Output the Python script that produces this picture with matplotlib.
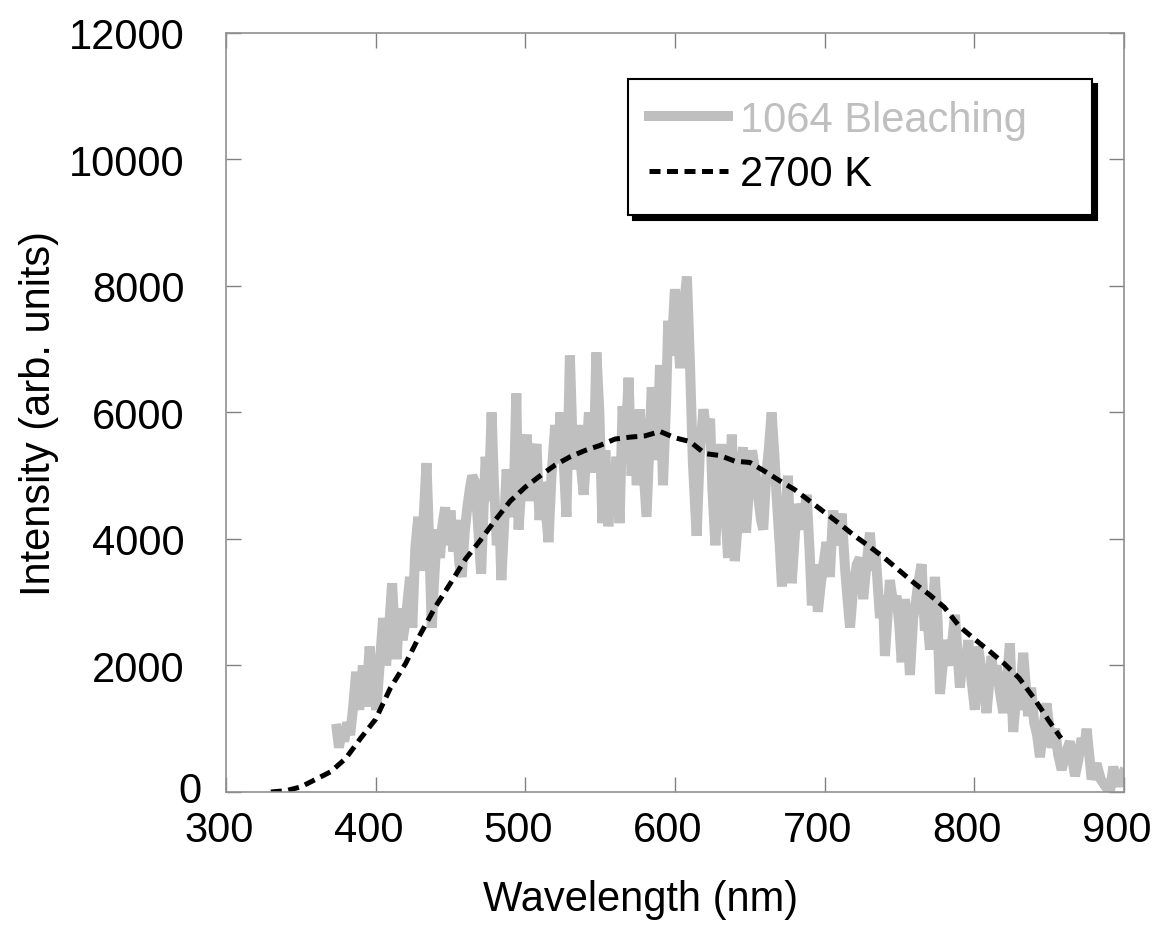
import numpy as np
import matplotlib
matplotlib.use('Agg')
import matplotlib.pyplot as plt
import matplotlib.transforms as mtransforms

wl_meas = [374, 375.5, 377, 379, 381, 383, 385, 387, 389, 391.5, 393.5, 396, 398, 400.5, 403, 405, 407, 409,
           411, 413, 414, 416, 418, 420, 423, 424.5, 426.5, 428.5, 430, 432, 434, 436, 437.5, 439, 441, 443,
           444.5, 446.5, 448, 450, 452, 454, 456, 457.5, 459.5, 461,
           463, 464.5, 466.5, 468.5, 470.5, 472, 473.5, 475.5, 477.5, 479, 481, 482.5, 484, 486, 487.5, 489.5,
           492, 494, 495.5, 497, 499, 501, 503, 505, 507.5, 509.5, 511.5, 513.5, 515.5, 517.5, 520, 522,
           523.5, 525.5, 527.5, 529.8, 531.5, 533, 535, 537, 539, 541, 542.5, 544, 545.5, 547.5, 549.5, 551.5,
           553.5, 555.5, 557.5, 559, 561, 563, 565, 567, 569, 571, 573, 574.5, 576.5, 578.5, 581, 583, 584.5,
           586.5, 588, 590, 592, 594, 595.5, 597.5, 600, 602, 603.5, 606, 608, 610, 612, 614.5, 616.5, 619,
           621, 623.5, 625, 627, 629, 631, 633, 635.5, 638,
           640, 641.5, 643, 645.5, 647.5, 649.5, 651.5, 653.5, 655.5, 657.5, 659, 661, 663, 664.6, 666.5, 668,
           670, 671.5, 673.5, 675.5, 678, 680, 681.5, 683.5, 685.5, 688, 690, 691.5, 693.5, 695.5, 698, 701.3,
           703.5, 705.7, 708, 711.4, 713.6, 715.5, 717, 719, 721.5, 723.6, 725.8,
           728, 730.3, 732, 734, 737, 739, 740.3, 743.6, 745.9, 748.1, 750, 751.5, 753.7, 755.5, 757, 759.2,
           761, 762.5, 764.8, 767, 768.5, 770.4, 773.7, 775.5, 777.1, 780.4, 783.7, 787.1, 790.4, 792.5, 794,
           796, 798, 800.4, 802.6, 805, 808.2, 811.6,
           813, 814.9, 817, 819.4, 821.5, 823.8, 826, 828, 830, 832.7, 836, 838, 840, 842, 843.9, 846, 848.3,
           851.7, 854, 856, 858.4, 861, 863.9, 867.3, 869.5, 871.7, 873.5, 875.1, 878.4, 881.7, 884.5, 887.3,
           890.6, 892.9, 894.5, 896.2, 899.5]
int_meas = [1000, 700, 950, 800, 1100, 900, 1350, 1900, 1300, 2000, 1350, 2300, 1700, 1300, 2100, 2750, 2000, 2600,
            3300, 2400, 2100, 2900, 2400, 2700, 3400, 2600, 3850, 4350, 3500, 4300, 5200, 3800, 2600, 3300, 4150, 3700,
            4200, 4500, 3900, 4450, 3800, 4300, 3600, 3400, 4100, 4450,
            4800, 5000, 4900, 4200, 3450, 4400, 5300, 4600, 6000, 4900, 3900, 4500, 3350, 4300, 5100, 4700,
            4350, 6300, 4150, 4700, 5300, 5650, 4600, 5200, 5500, 4300, 4900, 4500, 3950, 5000, 5800, 5200,
            6000, 5300, 4350, 6900, 5600, 5100, 5800, 5200, 4700, 5400, 6000, 5500, 5050, 6950, 6000, 4250,
            5400, 4200, 5000, 4600, 5300, 4250, 6100, 5500, 6550, 5000, 5600, 4850, 6050, 5300, 4350, 5500, 6400,
            5600, 5250, 6750, 4850, 6100, 7450, 6900, 7950, 7200, 6700, 7700, 8150, 6800, 5200, 4050, 5300, 6050,
            5700, 5900, 4800, 3900, 4900, 5500, 4700, 3700, 5650,
            3650, 4100, 5000, 5450, 4100, 4800, 5400, 5100, 4700, 4300, 4150, 5000, 5500, 6000, 5300, 4650,
            3900, 3250, 4200, 5000, 3300, 4000, 4550, 4400, 4150, 4700, 3800, 2950, 3600, 2850, 3400, 3950,
            3400, 4450, 3900, 4400, 3550, 3000, 2600, 3200, 3600, 3700, 3050,
            3600, 4100, 3500, 3800, 2750, 3100, 2150, 3350, 2950, 3100, 2600, 2050, 3050, 2500, 1850, 2750,
            3000, 3300, 3600, 2550, 2800, 2250, 3400, 2700, 1550, 2400, 2000, 2800, 1650, 2200, 1900,
            2400, 1800, 1300, 2300, 1900, 1250, 2150,
            1700, 2000, 1600, 1250, 1700, 2350, 950, 1500, 1300, 2200, 1200, 1650, 1100, 900, 550, 1000, 1400,
            700, 1000, 600, 350, 600, 800, 250, 500, 850, 700, 1000, 200, 450, 200, 100,
            0, 400, 200, 100, 300]

# 2700 K blackbody fit
wl_fit = [330, 340, 350, 360, 370, 380, 390, 400, 410, 420, 430, 440, 450, 460, 470, 480, 490, 500, 510, 520,
          530, 540, 550, 560, 570, 580, 590, 600, 610, 620, 630, 640, 650, 660, 670, 680, 690, 700, 710, 720,
          730, 740, 750, 760, 770, 780, 790, 800, 810, 820, 830, 840, 850, 858]
int_fit = [0, 20, 80, 200, 320, 530, 850, 1150, 1650, 2030, 2500, 2930, 3300, 3680, 3980, 4300, 4600, 4820, 5000,
           5170, 5300, 5400, 5480, 5580, 5610, 5630, 5700, 5600, 5540, 5350, 5320, 5230, 5210, 5070, 4920, 4780,
           4600, 4420, 4240, 4050, 3880, 3700, 3500, 3300, 3120, 2920, 2620, 2420, 2230, 2030, 1800, 1480, 1120, 850]

plt.rcParams['font.family'] = ['Liberation Sans', 'DejaVu Sans']
plt.rcParams['font.size'] = 30

fig = plt.figure(figsize=(11.63, 9.28), dpi=100)
ax = fig.add_axes([0.1943, 0.1455, 0.7721, 0.8179])

ax.plot(wl_meas, int_meas, color='#bfbfbf', lw=7.2, solid_joinstyle='bevel', label='1064 Bleaching')
ax.plot(wl_fit, int_fit, color='black', lw=3.6, ls=(0, (2.2, 1.3)), dash_capstyle='butt',
        label='2700 K')

ax.set_xlim(300, 900)
ax.set_ylim(0, 12000)
ax.set_xticks(np.arange(300, 901, 100))
ax.set_yticks(np.arange(0, 12001, 2000))
for sp in ax.spines.values():
    sp.set_color('#909090')
    sp.set_linewidth(1.2)
ax.tick_params(direction='in', length=11, width=1, color='#808080', top=True, right=True)
ax.tick_params(axis='x', pad=13)
ax.tick_params(axis='y', pad=30)

# small label shifts as in the original
xshift = mtransforms.ScaledTranslation(-0.07, 0, fig.dpi_scale_trans)
for lab in ax.get_xticklabels():
    lab.set_transform(lab.get_transform() + xshift)
zshift = mtransforms.ScaledTranslation(0.17, 0.05, fig.dpi_scale_trans)
lab0 = ax.get_yticklabels()[0]
lab0.set_transform(lab0.get_transform() + zshift)

ax.set_xlabel('Wavelength (nm)')
ax.xaxis.set_label_coords(0.462, -0.1146)
ax.set_ylabel('Intensity (arb. units)')
ax.yaxis.set_label_coords(-0.186, 0.5)

leg = ax.legend(loc='upper left', bbox_to_anchor=(0.4477, 0.7615, 0.5167, 0.1779), mode='expand',
                borderaxespad=0, fancybox=False, edgecolor='black', framealpha=1,
                shadow={'ox': 3.5, 'oy': -3.5, 'facecolor': 'black', 'edgecolor': 'black', 'alpha': 1},
                handlelength=1.9, handletextpad=0.3, borderpad=0.5, labelspacing=0.35,
                labelcolor='linecolor')
leg.get_frame().set_linewidth(1.5)

fig.savefig('out.png', dpi=100)
